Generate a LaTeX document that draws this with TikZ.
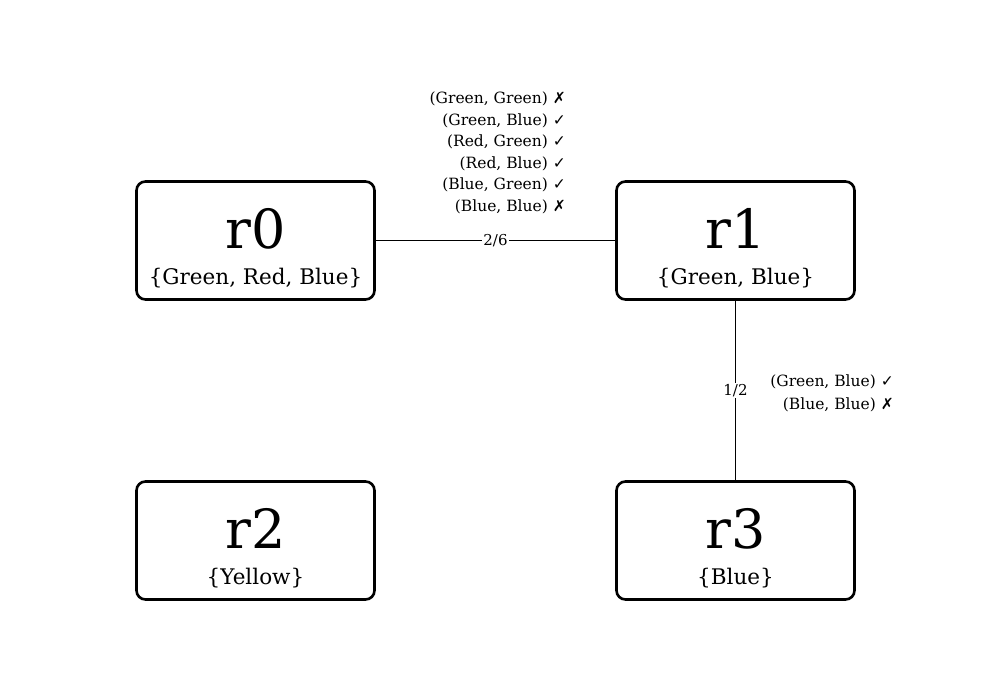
\documentclass[tikz,border=0pt]{standalone}
\usepackage{fontspec}
\setmainfont{DejaVu Serif}
\newfontfamily\symfont{DejaVu Sans}
\newcommand{\yes}{{\symfont ✓}}
\newcommand{\no}{{\symfont ✗}}
\begin{document}
\begin{tikzpicture}[x=1pt,y=-1pt,
  region/.style={draw, line width=2.6pt, rounded corners=9pt, minimum width=238pt, minimum height=118pt, inner sep=0pt},
  title/.style={anchor=base, font=\fontsize{54}{60}\selectfont, inner sep=0pt},
  colours/.style={anchor=base, font=\fontsize{21.5}{24}\selectfont, inner sep=0pt},
  edge/.style={line width=1.1pt},
  elabel/.style={fill=white, inner sep=1pt, font=\fontsize{15}{17}\selectfont},
  pairs/.style={anchor=base east, font=\fontsize{15.5}{18}\selectfont, inner sep=0pt}]
\useasboundingbox (0,0) rectangle (990,690);
\node[region] (r0) at (255.5,240.5) {};
\node[region] (r1) at (735.5,240.5) {};
\node[region] (r2) at (255.5,540.5) {};
\node[region] (r3) at (735.5,540.5) {};
\node[title] (t0) at (255.5,248) {r0};
\node[colours] (c0) at (255.5,284) {\{Green, Red, Blue\}};
\node[title] (t1) at (735.5,248) {r1};
\node[colours] (c1) at (735.5,284) {\{Green, Blue\}};
\node[title] (t2) at (255.5,548) {r2};
\node[colours] (c2) at (255.5,584) {\{Yellow\}};
\node[title] (t3) at (735.5,548) {r3};
\node[colours] (c3) at (735.5,584) {\{Blue\}};
\draw[edge] (r0.east) -- node[elabel] (e01) {2/6} (r1.west);
\draw[edge] (r1.south) -- node[elabel] (e13) {1/2} (r3.north);
\node[pairs] (p1) at (566,103.5) {(Green, Green) \no};
\node[pairs] (p2) at (566,125.1) {(Green, Blue) \yes};
\node[pairs] (p3) at (566,146.7) {(Red, Green) \yes};
\node[pairs] (p4) at (566,168.3) {(Red, Blue) \yes};
\node[pairs] (p5) at (566,189.9) {(Blue, Green) \yes};
\node[pairs] (p6) at (566,211.5) {(Blue, Blue) \no};
\node[pairs] (q1) at (894,386.5) {(Green, Blue) \yes};
\node[pairs] (q2) at (894,409.5) {(Blue, Blue) \no};
\end{tikzpicture}
\end{document}
